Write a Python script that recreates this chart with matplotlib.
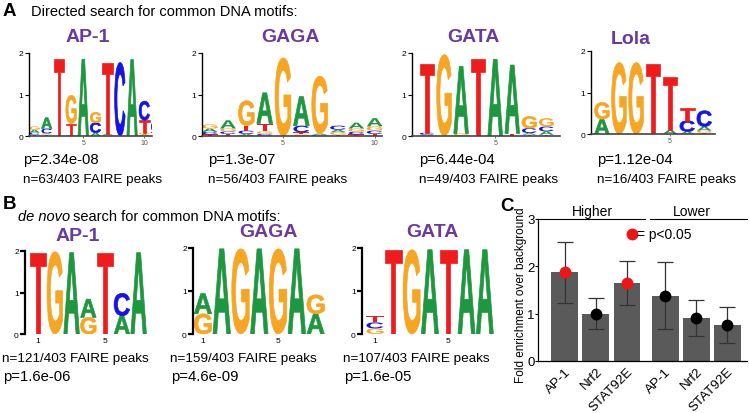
import matplotlib
matplotlib.use("Agg")
import matplotlib.pyplot as plt
from matplotlib.textpath import TextPath
from matplotlib.patches import PathPatch
from matplotlib.font_manager import FontProperties
from matplotlib.transforms import Affine2D

plt.rcParams["font.family"] = ["Liberation Sans", "DejaVu Sans"]

# ---- data: logo columns, letters listed bottom -> top, heights in bits ----
a_ap1_letters = ["TCAG", "TGCA", "T", "ATG", "A", "ACG", "GAT", "C", "A", "AGTC", "TC"]
a_ap1_heights = [[0.03, 0.05, 0.07, 0.08], [0.03, 0.03, 0.12, 0.26], [1.85],
                 [0.02, 0.28, 0.68], [1.85], [0.08, 0.24, 0.25], [0.03, 0.03, 1.70],
                 [1.77], [1.84], [0.04, 0.04, 0.30, 0.46], [0.10, 0.25]]

a_gaga_letters = ["TCAG", "TCGA", "ACTG", "CGTA", "G", "GTCA", "CAG", "TGAC", "TCGA", "TCGA"]
a_gaga_heights = [[0.04, 0.06, 0.08, 0.10], [0.05, 0.06, 0.07, 0.20],
                  [0.05, 0.08, 0.12, 0.60], [0.05, 0.06, 0.19, 0.74], [1.88],
                  [0.04, 0.05, 0.16, 0.70], [0.03, 0.03, 1.38], [0.03, 0.06, 0.06, 0.10],
                  [0.04, 0.06, 0.08, 0.14], [0.05, 0.08, 0.10, 0.20]]

a_gata_letters = ["ACT", "G", "GA", "T", "A", "TA", "TACG", "TACG"]
a_gata_heights = [[0.03, 0.05, 1.65], [1.96], [0.06, 1.62], [1.85], [1.85],
                  [0.06, 1.65], [0.03, 0.04, 0.12, 0.28], [0.03, 0.08, 0.12, 0.20]]

a_lola_letters = ["AG", "G", "G", "T", "AT", "ACT", "TGAC"]
a_lola_heights = [[0.36, 0.40], [1.72], [1.72], [1.68], [0.10, 1.28],
                  [0.06, 0.26, 0.30], [0.03, 0.05, 0.10, 0.38]]

b_ap1_letters = ["T", "G", "A", "GA", "T", "AC", "A"]
b_ap1_heights = [[1.96], [1.98], [1.96], [0.40, 0.44], [1.96], [0.44, 0.54], [1.96]]

b_gaga_letters = ["GA", "A", "G", "A", "G", "A", "AG"]
b_gaga_heights = [[0.47, 0.47], [1.98], [1.98], [1.98], [1.98], [1.98], [0.47, 0.44]]

b_gata_letters = ["GCT", "T", "G", "A", "T", "A", "A"]
b_gata_heights = [[0.13, 0.14, 0.14], [1.96], [1.96], [1.96], [1.96], [1.96], [1.96]]

a_titles = ["AP-1", "GAGA", "GATA", "Lola"]
a_pvals = ["p=2.34e-08", "p=1.3e-07", "p=6.44e-04", "p=1.12e-04"]
a_counts = ["n=63/403 FAIRE peaks", "n=56/403 FAIRE peaks",
            "n=49/403 FAIRE peaks", "n=16/403 FAIRE peaks"]
b_titles = ["AP-1", "GAGA", "GATA"]
b_pvals = ["p=1.6e-06", "p=4.6e-09", "p=1.6e-05"]
b_counts = ["n=121/403 FAIRE peaks", "n=159/403 FAIRE peaks", "n=107/403 FAIRE peaks"]

# ---- data: panel C ----
c_labels = ["AP-1", "Nrf2", "STAT92E", "AP-1", "Nrf2", "STAT92E"]
c_group = [0, 0, 0, 1, 1, 1]
c_mean = [1.87, 1.00, 1.65, 1.38, 0.90, 0.76]
c_low = [1.22, 0.67, 1.19, 0.68, 0.52, 0.37]
c_high = [2.52, 1.34, 2.11, 2.09, 1.29, 1.15]
c_signif = [True, False, True, False, False, False]

W, H = 749, 414
LETTER_COLORS = {"A": "#1f9640", "C": "#1414e6", "G": "#f6a623", "T": "#ee1c1c"}
PURPLE = "#6b3a9e"
LETTER_FONT = FontProperties(family="Liberation Sans", weight="bold")

fig = plt.figure(figsize=(W / 100, H / 100), dpi=100)


def px_axes(x0, x1, ytop, ybot):
    return fig.add_axes([x0 / W, 1 - ybot / H, (x1 - x0) / W, (ybot - ytop) / H])


def ftext(x, y, s, **kw):
    return fig.text(x / W, 1 - y / H, s, **kw)


def draw_letter(ax, ch, x, y0, h, w=0.9):
    tp = TextPath((0, 0), ch, size=1, prop=LETTER_FONT)
    bb = tp.get_extents()
    tr = (Affine2D().translate(-bb.x0, -bb.y0)
          .scale(w / bb.width, h / bb.height).translate(x - w / 2, y0))
    col = LETTER_COLORS[ch]
    # thin same-colour edge makes the stretched glyphs a bit heavier
    ax.add_patch(PathPatch(tr.transform_path(tp), fc=col, ec=col,
                           lw=0.5 if h > 0.2 else 0))


def draw_logo(ax, letters, heights, w=0.9):
    for i, (col, hs) in enumerate(zip(letters, heights)):
        y0 = 0.0
        for ch, h in zip(col, hs):
            draw_letter(ax, ch, i + 1, y0, h, w)
            y0 += h


# ---- panel A ----
a_boxes = [(29, 152, 54, 137, (0.55, 10.63), [5, 10]),
           (202, 382, 54, 137, (0.58, 10.4), [5, 10]),
           (412, 560, 54, 137, (0.12, 8.8), [5]),
           (591, 715, 52, 135, (0.36, 7.63), [5])]
a_data = [(a_ap1_letters, a_ap1_heights), (a_gaga_letters, a_gaga_heights),
          (a_gata_letters, a_gata_heights), (a_lola_letters, a_lola_heights)]
a_title_xy = [(88, 38), (291, 38), (473, 38), (631, 40)]
a_text_x = [23, 208, 419, 597]

for box, (lets, hts), txy, tx, title, pv, cnt in zip(
        a_boxes, a_data, a_title_xy, a_text_x, a_titles, a_pvals, a_counts):
    x0, x1, yt, yb, xlim, xt = box
    ax = px_axes(x0, x1, yt, yb)
    draw_logo(ax, lets, hts, w=0.86)
    ax.set_xlim(*xlim)
    ax.set_ylim(0, 2)
    ax.spines[["top", "right"]].set_visible(False)
    ax.spines["left"].set_linewidth(1.0)
    ax.spines["bottom"].set_linewidth(1.2)
    ax.spines["bottom"].set_color("#444444")
    ax.set_yticks([0, 1, 2])
    ax.set_xticks(xt)
    ax.tick_params(axis="y", labelsize=6, length=3, width=0.8, pad=1)
    ax.tick_params(axis="x", labelsize=5, length=1.5, width=0.6, pad=1,
                   colors="#555555")
    ax.patch.set_alpha(0)
    ftext(*txy, title, color=PURPLE, fontsize=14, fontweight="bold",
          ha="center", va="center")
    ftext(tx, 160, pv, fontsize=10.7, ha="left", va="center")
    ftext(tx, 180, cnt, fontsize=9.7, ha="left", va="center")

ftext(3, 12, "A", fontsize=13.5, fontweight="bold", ha="left", va="center")
ftext(31, 12, "Directed search for common DNA motifs:", fontsize=10.5,
      ha="left", va="center")

# ---- panel B ----
b_boxes = [(25, 147, 252, 335, (0.22, 7.5)),
           (193, 325, 249, 335, (0.47, 7.5)),
           (362, 494, 249, 335, (0.29, 7.5))]
b_data = [(b_ap1_letters, b_ap1_heights), (b_gaga_letters, b_gaga_heights),
          (b_gata_letters, b_gata_heights)]
b_title_xy = [(78, 237), (268, 233), (432, 233)]
b_text_x = [2, 170, 343]

for box, (lets, hts), txy, tx, title, pv, cnt in zip(
        b_boxes, b_data, b_title_xy, b_text_x, b_titles, b_pvals, b_counts):
    x0, x1, yt, yb, xlim = box
    ax = px_axes(x0, x1, yt, yb)
    draw_logo(ax, lets, hts, w=0.93)
    ax.set_xlim(*xlim)
    ax.set_ylim(0, 2)
    ax.spines[["top", "right", "bottom"]].set_visible(False)
    ax.spines["left"].set_linewidth(1.6)
    ax.set_yticks([0, 1, 2])
    ax.set_xticks([1, 5])
    ax.tick_params(axis="y", labelsize=6, length=3.5, width=1.6, pad=1)
    ax.tick_params(axis="x", labelsize=6, length=0, pad=2)
    ax.patch.set_alpha(0)
    ftext(*txy, title, color=PURPLE, fontsize=14, fontweight="bold",
          ha="center", va="center")
    ftext(tx, 359, cnt, fontsize=9.7, ha="left", va="center")
    ftext(tx + 1, 377, pv, fontsize=10.7, ha="left", va="center")

ftext(3, 205, "B", fontsize=13.5, fontweight="bold", ha="left", va="center")
t1 = ftext(18, 217, "de novo", fontsize=10.5, style="italic", ha="left", va="center")
fig.canvas.draw()
bb = t1.get_window_extent(fig.canvas.get_renderer())
fig.text(bb.x1 / fig.dpi / fig.get_figwidth() + 3 / W, 1 - 217 / H,
         "search for common DNA motifs:", fontsize=10.5, ha="left", va="center")

# ---- panel C ----
ax = px_axes(538, 747, 220, 362)
x_pos = [i + 0.23 * g for i, g in enumerate(c_group)]
err = [[m - lo for m, lo in zip(c_mean, c_low)],
       [hi - m for m, hi in zip(c_mean, c_high)]]
ax.bar(x_pos, c_mean, width=0.87, color="#5a5a5a", zorder=1)
ax.errorbar(x_pos, c_mean, yerr=err, fmt="none", ecolor="#333333",
            elinewidth=0.9, capsize=6, capthick=0.9, zorder=2)
for x, m, s in zip(x_pos, c_mean, c_signif):
    ax.plot(x, m, "o", ms=7.5, color="#f01414" if s else "black", zorder=3)
ax.set_xlim(-0.87, 5.87)
ax.set_ylim(0, 3)
ax.set_yticks([0, 1, 2, 3])
ax.set_xticks(x_pos)
ax.set_xticklabels(c_labels, rotation=45, ha="right", rotation_mode="anchor",
                   fontsize=9.6)
ax.tick_params(axis="x", length=0, pad=3)
ax.tick_params(axis="y", labelsize=9.5, length=2, width=0.8, pad=0.5)
ax.spines[["top", "right"]].set_visible(False)
ax.spines["left"].set_linewidth(0.9)
ax.spines["bottom"].set_linewidth(0.9)
ax.set_ylabel("Fold enrichment over background", fontsize=8.5)
ax.yaxis.set_label_coords(-0.055, 0.47)
ax.plot([-0.87, 2.58], [3.0, 3.0], color="black", lw=0.8, clip_on=False)
ax.plot([2.74, 5.87], [3.0, 3.0], color="black", lw=0.8, clip_on=False)
ax.text(0.87, 3.17, "Higher", fontsize=10, ha="center", va="center")
ax.text(4.1, 3.17, "Lower", fontsize=10, ha="center", va="center")
ax.plot(2.16, 2.68, "o", ms=7.5, color="#f01414", clip_on=False)
ax.text(2.33, 2.68, "= p<0.05", fontsize=10, ha="left", va="center")
ftext(500, 207, "C", fontsize=13.5, fontweight="bold", ha="left", va="center")

fig.savefig("out.png", dpi=100)
